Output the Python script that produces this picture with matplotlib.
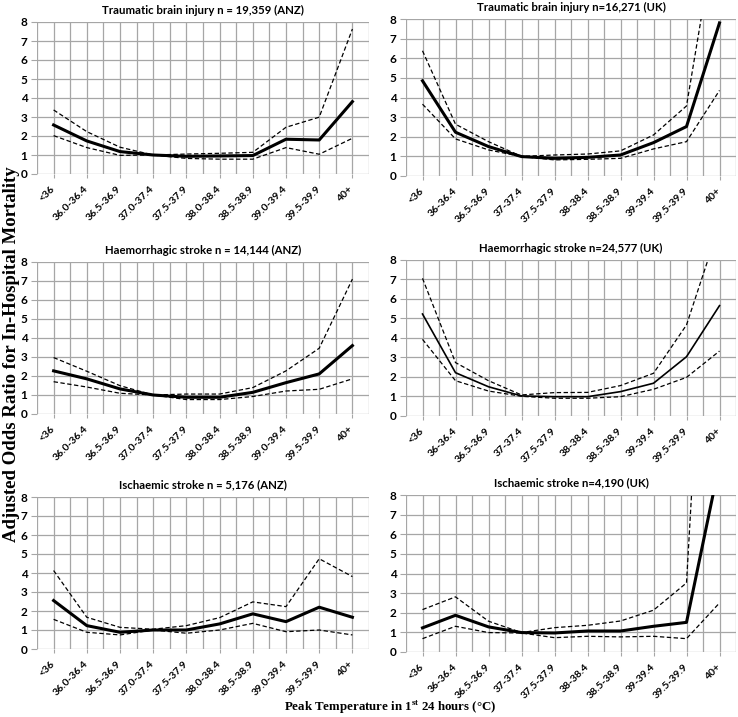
import matplotlib
matplotlib.use("Agg")
import matplotlib.pyplot as plt
import matplotlib.transforms as mtransforms
import numpy as np

plt.rcParams['mathtext.fontset'] = 'custom'
plt.rcParams['mathtext.rm'] = 'Liberation Serif:bold'
plt.rcParams['mathtext.bf'] = 'Liberation Serif:bold'

cats_anz = ["<36", "36.0-36.4", "36.5-36.9", "37.0-37.4", "37.5-37.9", "38.0-38.4",
            "38.5-38.9", "39.0-39.4", "39.5-39.9", "40+"]
cats_uk = ["<36", "36-36.4", "36.5-36.9", "37-37.4", "37.5-37.9", "38-38.4",
           "38.5-38.9", "39-39.4", "39.5-39.9", "40+"]

titles = ["Traumatic brain injury n = 19,359 (ANZ)", "Traumatic brain injury n=16,271 (UK)",
          "Haemorrhagic stroke n = 14,144 (ANZ)", "Haemorrhagic stroke n=24,577 (UK)",
          "Ischaemic stroke n = 5,176 (ANZ)", "Ischaemic stroke n=4,190 (UK)"]

# TBI ANZ
tbi_anz_or = [2.58, 1.74, 1.18, 1.0, 0.93, 0.95, 0.97, 1.83, 1.79, 3.81]
tbi_anz_hi = [3.37, 2.23, 1.41, 1.0, 1.05, 1.09, 1.14, 2.46, 2.99, 7.63]
tbi_anz_lo = [2.02, 1.39, 0.98, 1.0, 0.82, 0.78, 0.78, 1.39, 1.04, 1.88]
# TBI UK
tbi_uk_or = [4.85, 2.23, 1.5, 0.99, 0.9, 0.95, 1.07, 1.7, 2.52, 7.8]
tbi_uk_hi = [6.38, 2.64, 1.75, 1.0, 1.07, 1.12, 1.28, 2.09, 3.57, 13.6]
tbi_uk_lo = [3.66, 1.89, 1.33, 0.99, 0.82, 0.85, 0.9, 1.38, 1.75, 4.36]
# HS ANZ
hs_anz_or = [2.27, 1.85, 1.32, 1.0, 0.88, 0.88, 1.14, 1.65, 2.11, 3.6]
hs_anz_hi = [2.97, 2.25, 1.49, 1.0, 1.05, 1.05, 1.39, 2.27, 3.46, 7.1]
hs_anz_lo = [1.7, 1.42, 1.09, 1.0, 0.76, 0.76, 0.92, 1.21, 1.3, 1.85]
# HS UK
hs_uk_or = [5.23, 2.22, 1.5, 1.03, 0.99, 0.99, 1.25, 1.68, 3.04, 5.66]
hs_uk_hi = [7.06, 2.74, 1.81, 1.08, 1.2, 1.21, 1.56, 2.19, 4.67, 9.8]
hs_uk_lo = [3.93, 1.81, 1.28, 1.01, 0.91, 0.91, 0.99, 1.37, 1.98, 3.33]
# IS ANZ
is_anz_or = [2.55, 1.23, 0.88, 1.0, 1.0, 1.32, 1.85, 1.44, 2.2, 1.67]
is_anz_hi = [4.13, 1.67, 1.14, 1.04, 1.23, 1.65, 2.48, 2.23, 4.75, 3.81]
is_anz_lo = [1.56, 0.88, 0.74, 1.0, 0.83, 1.0, 1.35, 0.91, 1.0, 0.74]
# IS UK
is_uk_or = [1.23, 1.87, 1.28, 0.99, 0.97, 1.07, 1.07, 1.31, 1.51, 9.6]
is_uk_hi = [2.16, 2.81, 1.57, 0.99, 1.24, 1.36, 1.58, 2.13, 3.52, 33.0]
is_uk_lo = [0.68, 1.31, 0.99, 0.97, 0.73, 0.8, 0.77, 0.8, 0.68, 2.5]

panels = [
    (cats_anz, tbi_anz_or, tbi_anz_hi, tbi_anz_lo, 2.2),
    (cats_uk, tbi_uk_or, tbi_uk_hi, tbi_uk_lo, 2.2),
    (cats_anz, hs_anz_or, hs_anz_hi, hs_anz_lo, 2.2),
    (cats_uk, hs_uk_or, hs_uk_hi, hs_uk_lo, 1.2),
    (cats_anz, is_anz_or, is_anz_hi, is_anz_lo, 2.2),
    (cats_uk, is_uk_or, is_uk_hi, is_uk_lo, 2.2),
]

W, H = 738, 717
fig = plt.figure(figsize=(W / 100, H / 100), dpi=100)

# axes boxes in pixels: left, top, right, bottom
boxes = [
    (37, 22, 369, 174), (406, 19, 736, 176),
    (37, 262, 369, 414), (406, 260, 736, 416),
    (37, 497, 369, 649), (406, 495, 736, 652),
]

tick_font = dict(family='Lato', weight='bold')
grid_col = '#a6a6a6'
shift = mtransforms.ScaledTranslation(5 / 72, 0, fig.dpi_scale_trans)

for (cats, orv, hi, lo, lw), box, title in zip(panels, boxes, titles):
    l, t, r, b = box
    ax = fig.add_axes([l / W, 1 - b / H, (r - l) / W, (b - t) / H])
    x = np.arange(len(cats))
    ax.set_xlim(-0.5, len(cats) - 0.5)
    ax.set_ylim(0, 8)
    for xv in np.arange(-0.5, len(cats), 0.5):
        ax.axvline(xv, color=grid_col, lw=0.9, zorder=0)
    for yv in range(0, 9):
        ax.axhline(yv, color=grid_col, lw=0.9, zorder=0)
    ax.plot(x, hi, color='black', lw=0.9, ls=(0, (3.5, 2)), zorder=2)
    ax.plot(x, lo, color='black', lw=0.9, ls=(0, (3.5, 2)), zorder=2)
    ax.plot(x, orv, color='black', lw=lw, zorder=3)
    for s in ax.spines.values():
        s.set_visible(False)
    ax.set_yticks(range(0, 9))
    ax.set_yticklabels([str(v) for v in range(0, 9)], fontsize=8.5, **tick_font)
    ax.set_xticks(x)
    ax.set_xticklabels(cats, rotation=45, ha='right', va='center', rotation_mode='anchor',
                       fontsize=7.5, **tick_font)
    for lab in ax.get_xticklabels():
        lab.set_transform(lab.get_transform() + shift)
    ax.tick_params(axis='y', length=4, color=grid_col, pad=3)
    ax.tick_params(axis='x', length=3, color=grid_col, pad=7)
    ax.set_title(title, fontsize=8.2, family='Lato', weight='bold', pad=6)

fig.text(12 / W, 1 - 354 / H, "Adjusted Odds Ratio for In-Hospital Mortality", rotation=90,
         ha='center', va='center', fontsize=13.5, family='Liberation Serif', weight='bold')
fig.text(390 / W, 1 - 707 / H, r"Peak Temperature in 1$^{\mathrm{st}}$ 24 hours (°C)",
         ha='center', va='center', fontsize=9.3, family='Liberation Serif', weight='bold')

fig.savefig('out.png', dpi=100)
